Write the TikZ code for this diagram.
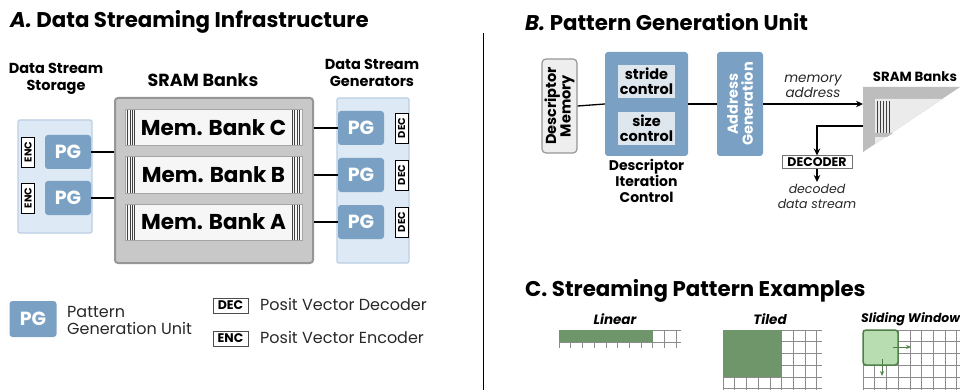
\documentclass[tikz,border=0pt]{standalone}
\usepackage{fontspec}
\setmainfont{Poppins}
\usetikzlibrary{arrows.meta,calc}

\definecolor{pgblue}{RGB}{122,161,196}
\definecolor{contbg}{RGB}{221,233,244}
\definecolor{contline}{RGB}{186,207,228}
\definecolor{sramfill}{RGB}{200,200,200}
\definecolor{sramline}{RGB}{150,150,150}
\definecolor{bankfill}{RGB}{246,246,246}
\definecolor{bankline}{RGB}{165,165,165}
\definecolor{ctrlfill}{RGB}{222,230,238}
\definecolor{memfill}{RGB}{238,238,238}
\definecolor{tilegreen}{RGB}{111,149,106}
\definecolor{tileline}{RGB}{88,120,84}
\definecolor{winfill}{RGB}{184,221,176}
\definecolor{winline}{RGB}{79,128,74}
\definecolor{gridgray}{RGB}{140,140,140}
\definecolor{txtgray}{RGB}{40,40,40}

\tikzset{
  sectiontitle/.style={anchor=west, font=\bfseries\fontsize{21.3}{24}\selectfont, inner sep=0},
  headlabel/.style={font=\bfseries\fontsize{14.5}{16.5}\selectfont, align=center, inner sep=0},
  pg/.style={fill=pgblue, rounded corners=3pt, text=white,
    font=\bfseries\fontsize{19}{19}\selectfont, minimum width=46, minimum height=34, inner sep=0},
  tag/.style={draw=black, line width=0.6pt, fill=white,
    font=\bfseries\fontsize{10}{10}\selectfont, inner sep=1.2pt, minimum height=13},
  vtag/.style={tag, rotate=90, minimum width=30},
  cont/.style={fill=contbg, draw=contline, line width=1.2pt, rounded corners=2pt, inner sep=0},
  bankhatch/.style={path picture={
      \foreach \i in {0,...,3} {
        \draw[black!75, line width=0.7pt]
          ([xshift=2.5+2.4*\i] path picture bounding box.south west) --
          ([xshift=2.5+2.4*\i] path picture bounding box.north west);
        \draw[black!75, line width=0.7pt]
          ([xshift=-2.5-2.4*\i] path picture bounding box.south east) --
          ([xshift=-2.5-2.4*\i] path picture bounding box.north east);
      }}},
  bank/.style={fill=bankfill, draw=bankline, line width=1pt, bankhatch,
    minimum width=177, minimum height=36, inner sep=0,
    font=\bfseries\fontsize{21.5}{21.5}\selectfont},
  link/.style={line width=1.3pt, black},
  arr/.style={link, -{Stealth[length=7pt,width=6.5pt]}},
  legendtext/.style={anchor=west, font=\fontsize{16}{17}\selectfont, text=txtgray,
    align=left, inner sep=0},
  legtag/.style={tag, minimum width=35, minimum height=15, draw=black!70,
    font=\bfseries\fontsize{12.5}{12.5}\selectfont},
  ctrl/.style={fill=ctrlfill, minimum width=57, minimum height=33, inner sep=0,
    font=\bfseries\fontsize{14.5}{15.5}\selectfont, align=center},
  italabel/.style={font=\itshape\fontsize{13.5}{15}\selectfont, text=txtgray, align=center, inner sep=0},
  patlabel/.style={font=\bfseries\itshape\fontsize{13.5}{14}\selectfont, inner sep=0},
  gridline/.style={gridgray, line width=0.6pt},
}

\begin{document}
\begin{tikzpicture}[x=1pt, y=-1pt]
\useasboundingbox[fill=white] (0,0) rectangle (960,390);

% ---------- Titles and divider ----------
\node[sectiontitle] (titleA) at (10,22) {\textit{A.} Data Streaming Infrastructure};
\node[sectiontitle] (titleB) at (525,22) {\textit{B.} Pattern Generation Unit};
\node[sectiontitle] (titleC) at (525,291) {C. Streaming Pattern Examples};
\draw[black, line width=1pt] (483,33) -- (483,390);

% ---------- A: infrastructure ----------
\node[headlabel] (lblstore) at (56,79) {Data Stream\\Storage};
\node[font=\bfseries\fontsize{17.5}{18}\selectfont, inner sep=0] (lblsram) at (203,80) {SRAM Banks};
\node[headlabel] (lblgen) at (372,73) {Data Stream\\Generators};

% storage side
\node[cont, minimum width=74, minimum height=113] (store) at (55,176.5) {};
\node[pg] (pgS1) at (68,152) {PG};
\node[pg] (pgS2) at (68,198) {PG};
\node[vtag] (enc1) at (28,152) {ENC};
\node[vtag] (enc2) at (28,198) {ENC};

% SRAM banks
\node[fill=sramfill, draw=sramline, line width=2pt, rounded corners=3pt,
      minimum width=198, minimum height=165, inner sep=0] (sram) at (214,180.5) {};
\node[bank] (bankC) at (213.5,128) {Mem. Bank C};
\node[bank] (bankB) at (213.5,175) {Mem. Bank B};
\node[bank] (bankA) at (213.5,222) {Mem. Bank A};

% generator side
\node[cont, minimum width=72, minimum height=165] (gen) at (373,180.5) {};
\node[pg] (pgG1) at (361,128) {PG};
\node[pg] (pgG2) at (361,175) {PG};
\node[pg] (pgG3) at (361,222) {PG};
\node[vtag] (dec1) at (401.5,128) {DEC};
\node[vtag] (dec2) at (401.5,175) {DEC};
\node[vtag] (dec3) at (401.5,222) {DEC};

% connections
\draw[link] (pgS1.east) -- (pgS1.east -| sram.west);
\draw[link] (pgS2.east) -- (pgS2.east -| sram.west);
\draw[link] (pgG1.west -| sram.east) -- (pgG1.west);
\draw[link] (pgG2.west -| sram.east) -- (pgG2.west);
\draw[link] (pgG3.west -| sram.east) -- (pgG3.west);

% legend
\node[pg, minimum width=47, minimum height=36] (legpg) at (33,319) {PG};
\node[legendtext] (legpgtxt) at (67,320.5) {Pattern\\Generation Unit};
\node[legtag] (legdec) at (230.5,305.5) {DEC};
\node[legendtext] (legdectxt) at (260,304.5) {Posit Vector Decoder};
\node[legtag] (legenc) at (230.5,338.5) {ENC};
\node[legendtext] (legenctxt) at (260,337.5) {Posit Vector Encoder};

% ---------- B: pattern generation unit ----------
\node[fill=memfill, draw=sramline, line width=1.2pt, rounded corners=4pt, rotate=90,
      minimum width=94, minimum height=35, inner sep=0, align=center,
      font=\bfseries\fontsize{14.5}{14.5}\selectfont] (descmem) at (559.5,106) {Descriptor\\Memory};
\node[fill=pgblue, rounded corners=3pt, minimum width=83, minimum height=104, inner sep=0] (dic) at (646.5,104) {};
\node[ctrl] (stride) at (646.5,81.5) {stride\\control};
\node[ctrl] (size) at (646.5,128.5) {size\\control};
\node[headlabel, font=\bfseries\fontsize{14}{15.8}\selectfont, anchor=north] (diclbl) at (646.5,159) {Descriptor\\Iteration\\Control};
\node[fill=pgblue, rounded corners=3pt, rotate=90, minimum width=104, minimum height=46,
      inner sep=0, text=white, align=center, font=\bfseries\fontsize{14.5}{15}\selectfont] (addr) at (740,104) {Address\\Generation};

\draw[link] (descmem.south) -- (dic.west);
\draw[link] (dic.east) -- (addr.north);

% small SRAM stack seen in perspective
\coordinate (sramTL) at (863,87);
\fill[sramfill!85!gray] (sramTL) -- (960,87) -- (863,152) -- cycle;
\fill[black!8] (875,99) -- (942,99) -- (875,144) -- cycle;
\foreach \i in {0,...,4} {
  \draw[black!75, line width=0.8pt] (877+3.2*\i,101) -- (877+3.2*\i,133);
}
\fill[sramfill!85!gray] (875,133) -- (893,133) -- (887,137) -- (875,137) -- cycle;
\node[font=\bfseries\fontsize{13.3}{14}\selectfont, inner sep=0] (lblsram2) at (915,77) {SRAM Banks};
\coordinate (sramIn) at (863,104);
\coordinate (sramOut) at (863,126);

\draw[arr] (addr.south) -- (sramIn);
\node[italabel] (memaddr) at (813,86) {memory\\address};

\node[draw=black!55, line width=1pt, fill=white, minimum width=70, minimum height=13, inner sep=0,
      font=\bfseries\fontsize{12.5}{12.5}\selectfont] (decoder) at (817,162.5) {DECODER};
\draw[arr] (sramOut) -- (sramOut -| decoder.north) -- (decoder.north);
\coordinate (decodedEnd) at (817,182);
\draw[arr] (decoder.south) -- (decodedEnd);
\node[italabel, font=\itshape\fontsize{12.5}{15}\selectfont, anchor=north] (decodedlbl) at (817,184) {decoded\\data stream};

% ---------- C: streaming pattern examples ----------
\def\cw{11.7}
% linear
\node[patlabel] (linlbl) at (615,319) {Linear};
\begin{scope}
  \clip (559,330) rectangle (681,348);
  \foreach \k in {0,...,10} \draw[gridline] (559+\cw*\k,330) -- (559+\cw*\k,348);
  \foreach \r in {0,1} \draw[gridline] (559,330+12*\r) -- (681,330+12*\r);
\end{scope}
\fill[tilegreen] (559,330) rectangle (653,342);

% tiled
\node[patlabel] (tillbl) at (770,319) {Tiled};
\begin{scope}
  \clip (722.5,329.5) rectangle (822,390);
  \foreach \k in {0,...,8} \draw[gridline] (723+\cw*\k,330) -- (723+\cw*\k,390);
  \foreach \r in {0,...,5} \draw[gridline] (723,330+\cw*\r) -- (822,330+\cw*\r);
\end{scope}
\fill[tilegreen] (723,330) rectangle (781.5,376.8);

% sliding window
\node[patlabel, font=\bfseries\itshape\fontsize{12.4}{14}\selectfont, anchor=west] (slilbl) at (861,319) {Sliding Window};
\begin{scope}
  \clip (862.5,329.5) rectangle (960,390);
  \foreach \k in {0,...,9} \draw[gridline] (863+\cw*\k,330) -- (863+\cw*\k,390);
  \foreach \r in {0,...,5} \draw[gridline] (863,330+\cw*\r) -- (960,330+\cw*\r);
\end{scope}
\node[fill=winfill, draw=winline, line width=1.5pt, rounded corners=3pt,
      minimum width=35, minimum height=35, inner sep=0] (win) at (880.5,347.5) {};
\coordinate (winR) at (911,347);
\coordinate (winD) at (882,376);
\draw[winline, line width=1pt, -{Stealth[length=5pt,width=4pt]}] (893,347) -- (winR);
\draw[winline, line width=1pt, -{Stealth[length=5pt,width=4pt]}] (882,359) -- (winD);

\end{tikzpicture}
\end{document}
